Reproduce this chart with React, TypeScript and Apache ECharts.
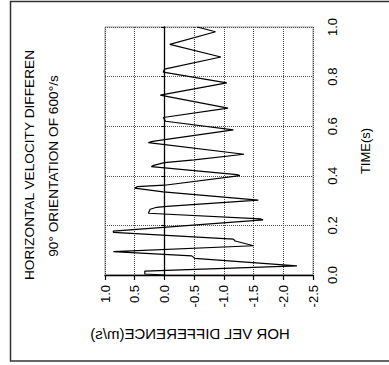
import React, { useEffect, useRef } from "react";
import * as echarts from "echarts";

const titleLines = ["HORIZONTAL VELOCITY DIFFEREN", "90° ORIENTATION OF 600°/s"];
const xName = "HOR VEL DIFFERENCE(m/s)";
const yName = "TIME(s)";

// time (s) of each traced point
const times = [
  0.0, 0.004, 0.016, 0.037, 0.067, 0.077, 0.094, 0.118, 0.137, 0.145, 0.172, 0.177,
  0.222, 0.226, 0.249, 0.265, 0.273, 0.277, 0.302, 0.335, 0.35, 0.356, 0.362, 0.401,
  0.405, 0.437, 0.442, 0.453, 0.464, 0.487, 0.534, 0.539, 0.585, 0.62, 0.635, 0.673,
  0.725, 0.775, 0.818, 0.83, 0.879, 0.93, 0.981, 1.0,
];
// horizontal velocity difference (m/s) at each traced point
const velocities = [
  0.0, 0.33, 0.33, -2.23, -0.51, -0.46, 0.86, -1.5, -1.19, -1.16, 0.86, 0.86,
  -1.66, -1.62, 0.27, 0.24, 0.13, -0.04, -1.58, 0.02, 0.5, 0.46, 0.0, -1.27,
  -1.22, 0.22, 0.18, 0.0, -0.5, -1.34, 0.27, 0.2, -1.16, -0.02, 0.02, -1.07,
  0.07, -1.05, 0.02, 0.0, -0.95, -0.09, -0.86, -0.55,
];

const FONT = '"Liberation Sans", Arial, sans-serif';

export default function App() {
  const ref = useRef<HTMLDivElement>(null);
  useEffect(() => {
    if (!ref.current) return;
    const chart = echarts.init(ref.current, undefined, { renderer: "svg" });
    const data = times.map((t, i) => [velocities[i], t]);
    chart.setOption({
      animation: false,
      backgroundColor: "#fff",
      textStyle: { fontFamily: FONT },
      grid: {
        left: 105,
        right: 76,
        top: 27,
        bottom: 90,
        show: true,
        borderColor: "#999",
        borderWidth: 1,
        backgroundColor: "transparent",
      },
      xAxis: {
        type: "value",
        min: -2.5,
        max: 1.0,
        interval: 0.5,
        inverse: true,
        axisLine: { show: true, onZero: false, lineStyle: { color: "#000", width: 1.3 } },
        axisTick: { show: true, length: 5, lineStyle: { color: "#000", width: 1.2 } },
        axisLabel: {
          rotate: 90,
          margin: 10,
          fontSize: 13,
          color: "#000",
          fontFamily: FONT,
          formatter: (v: number) => v.toFixed(1),
        },
        splitLine: { show: true, lineStyle: { type: "dotted", color: "#444", width: 1 } },
      },
      yAxis: [
        {
          type: "value",
          min: 0,
          max: 1,
          interval: 0.2,
          position: "right",
          name: yName,
          nameLocation: "middle",
          nameRotate: 90,
          nameGap: 46,
          nameTextStyle: { fontSize: 13, color: "#000", fontFamily: FONT },
          axisLine: { show: false, onZero: false },
          axisTick: { show: false },
          axisLabel: {
            rotate: 90,
            margin: 13,
            fontSize: 13,
            color: "#000",
            fontFamily: FONT,
            formatter: (v: number) => v.toFixed(1),
          },
          splitLine: { show: true, lineStyle: { type: "dotted", color: "#555", width: 1 } },
        },
        {
          type: "value",
          min: 0,
          max: 1,
          interval: 0.2,
          position: "left",
          axisLine: { show: true, onZero: true, lineStyle: { color: "#000", width: 1.3 } },
          axisTick: { show: true, length: 3, lineStyle: { color: "#000" } },
          axisLabel: { show: false },
          splitLine: { show: false },
        },
      ],
      series: [
        {
          type: "line",
          data,
          xAxisIndex: 0,
          yAxisIndex: 0,
          showSymbol: false,
          symbol: "none",
          lineStyle: { color: "#000", width: 1.2 },
          z: 5,
        },
      ],
      graphic: [
        {
          type: "rect",
          shape: { x: 10.5, y: 1.5, width: 392, height: 359.5 },
          style: { fill: "none", stroke: "#333", lineWidth: 1.5 },
          silent: true,
          z: 100,
        },
        {
          type: "text",
          x: 29,
          y: 165,
          rotation: Math.PI / 2,
          style: {
            text: titleLines[0],
            fontSize: 13.7,
            fontFamily: FONT,
            fill: "#000",
            align: "center",
            verticalAlign: "middle",
          },
        },
        {
          type: "text",
          x: 53,
          y: 166,
          rotation: Math.PI / 2,
          style: {
            text: titleLines[1],
            fontSize: 13.7,
            fontFamily: FONT,
            fill: "#000",
            align: "center",
            verticalAlign: "middle",
          },
        },
        {
          type: "text",
          x: 190,
          y: 333,
          scaleX: -1,
          style: {
            text: xName,
            fontSize: 15,
            fontFamily: FONT,
            fill: "#000",
            align: "center",
            verticalAlign: "middle",
          },
        },
      ],
    });
    return () => chart.dispose();
  }, []);
  return (
    <div
      ref={ref}
      style={{ position: "fixed", left: 0, top: 0, width: 389, height: 365, background: "#fff" }}
    />
  );
}
